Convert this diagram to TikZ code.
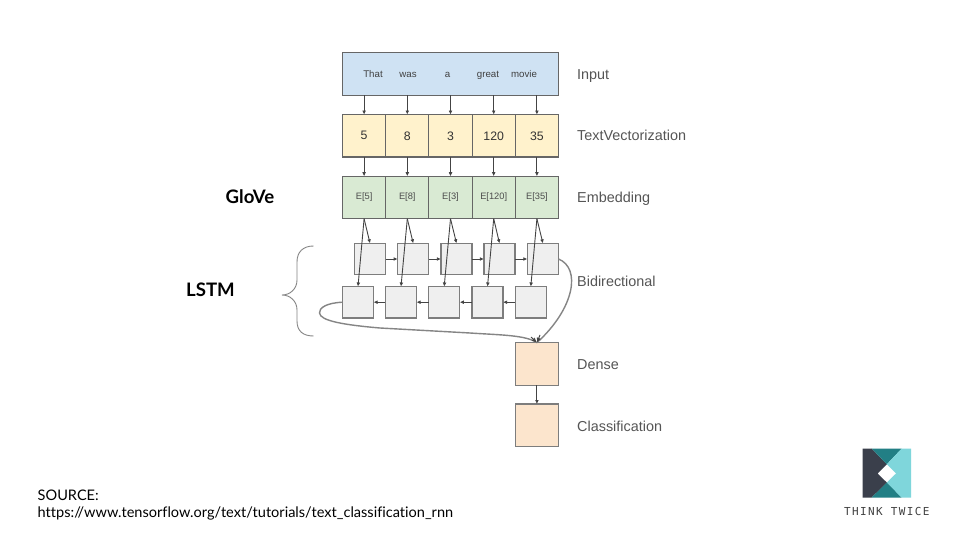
\documentclass[tikz,border=0pt]{standalone}
\usepackage{fontspec}
\setmainfont{Liberation Sans}
\newfontfamily\latofont[Ligatures=NoCommon]{Lato}
\newfontfamily\monofont{DejaVu Sans Mono}
\usetikzlibrary{arrows.meta}
\definecolor{inblue}{HTML}{CFE2F3}
\definecolor{vecyellow}{HTML}{FFF2CC}
\definecolor{embgreen}{HTML}{D9EAD3}
\definecolor{lstmgray}{HTML}{EFEFEF}
\definecolor{denseorange}{HTML}{FCE5CD}
\definecolor{linegray}{HTML}{666666}
\definecolor{arrowdark}{HTML}{444444}
\definecolor{labelgray}{HTML}{555555}
\definecolor{logodark}{HTML}{3A3F4B}
\definecolor{logoteal}{HTML}{227F85}
\definecolor{logolight}{HTML}{7FD6DB}
\tikzset{
  x=1pt,y=-1pt,
  cell/.style={draw=linegray,line width=1.1pt,inner sep=0pt,outer sep=0pt,minimum height=42.5pt,font=\fontsize{12.3}{14}\selectfont,text=black!80},
  veccell/.style={cell,fill=vecyellow,minimum width=43.2pt},
  embcell/.style={cell,fill=embgreen,minimum width=43.2pt,font=\fontsize{9.3}{11}\selectfont,text=black!70},
  lstmcell/.style={draw=linegray!85,line width=1.3pt,fill=lstmgray,inner sep=0pt,outer sep=0pt,minimum width=31.2pt,minimum height=31.4pt},
  densecell/.style={draw=linegray!85,line width=1.3pt,fill=denseorange,inner sep=0pt,outer sep=0pt,minimum width=43.5pt,minimum height=42.6pt},
  word/.style={anchor=base,font=\fontsize{9.7}{11}\selectfont,text=black!75,inner sep=0pt},
  rowlabel/.style={anchor=base west,inner sep=0pt,font=\fontsize{14.4}{16}\selectfont,text=labelgray},
  biglabel/.style={inner sep=0pt,font=\latofont\bfseries\fontsize{18.6}{20}\selectfont,text=black},
  flow/.style={draw=arrowdark,line width=0.9pt,-{Latex[length=4pt,width=3.8pt]}},
  curved/.style={draw=linegray!80,line width=1.4pt},
  srctext/.style={anchor=base west,inner sep=0pt,font=\latofont\fontsize{14.55}{17}\selectfont,text=black},
}
\begin{document}
\begin{tikzpicture}
\useasboundingbox (0,0) rectangle (960,540);
\fill[white] (0,0) rectangle (960,540);

% Input
\node[draw=linegray,line width=1.1pt,fill=inblue,inner sep=0pt,outer sep=0pt,minimum width=216pt,minimum height=42.5pt] (input) at (450.5,74.2) {};
\node[word] (w1) at (373,77.5) {That};
\node[word] (w2) at (408,77.5) {was};
\node[word] (w3) at (447.5,77.5) {a};
\node[word] (w4) at (488,77.5) {great};
\node[word] (w5) at (524,77.5) {movie};

% TextVectorization
\foreach \i/\x/\t in {1/364.1/5,2/407.3/8,3/450.5/3,4/493.7/120,5/536.9/35}{
  \node[veccell] (v\i) at (\x,135.8) {\t};
  \node[embcell] (e\i) at (\x,197.5) {E[\ifcase\i\or 5\or 8\or 3\or 120\or 35\fi]};
  \draw[flow] (input.south -| v\i) -- (v\i.north);
  \draw[flow] (v\i.south) -- (e\i.north);
}

% Bidirectional
\node[lstmcell] (f1) at (370,259) {};
\node[lstmcell] (f2) at (413.2,259) {};
\node[lstmcell] (f3) at (456.5,259) {};
\node[lstmcell] (f4) at (499.5,259) {};
\node[lstmcell] (f5) at (542.9,259) {};
\node[lstmcell] (b1) at (358,302.2) {};
\node[lstmcell] (b2) at (401,302.2) {};
\node[lstmcell] (b3) at (444.2,302.2) {};
\node[lstmcell] (b4) at (487.5,302.2) {};
\node[lstmcell] (b5) at (530.8,302.2) {};

\foreach \i in {1,...,5}{
  \draw[flow] (e\i.south) -- (f\i.north);
  \draw[flow] (e\i.south) -- (b\i.north);
}
\foreach \a/\b in {1/2,2/3,3/4,4/5}{
  \draw[flow] (f\a.east) -- (f\b.west);
  \draw[flow] (b\b.west) -- (b\a.east);
}

% Dense, Classification
\node[densecell] (dense) at (536.9,364) {};
\node[densecell] (cls) at (536.9,425.3) {};
\draw[flow] (dense.south) -- (cls.north);

\draw[curved] (f5.east) .. controls (581,268) and (575,308) .. (dense.north);
\draw[curved] (b1.west) .. controls (326,303) and (319,308) .. (319.5,313)
  .. controls (320,321) and (345,325) .. (380,328)
  -- (470,333) .. controls (500,335) and (526,335) .. (dense.north);
\draw[draw=arrowdark,line width=1pt,-{Latex[length=5pt,width=4.5pt]}] (531,337) -- (dense.north);
\draw[draw=arrowdark,line width=1pt,-{Latex[length=5pt,width=4.5pt]}] (540,335) -- (dense.north);

% Brace
\draw[draw=linegray!80,line width=0.9pt] (313.5,246)
  .. controls (303,246) and (297,252) .. (297,262) -- (297,280)
  .. controls (297,289) and (290,295) .. (282,295)
  .. controls (290,295) and (297,301) .. (297,310) -- (297,321)
  .. controls (297,331) and (303,336) .. (313.5,336);

% Row labels
\node[rowlabel] (l1) at (577,79.5) {Input};
\node[rowlabel] (l2) at (577,140.5) {TextVectorization};
\node[rowlabel] (l3) at (577,202.5) {Embedding};
\node[rowlabel] (l4) at (577,286) {Bidirectional};
\node[rowlabel] (l5) at (577,369.5) {Dense};
\node[rowlabel] (l6) at (577,431) {Classification};

\node[biglabel] (glove) at (250,197) {GloVe};
\node[biglabel] (lstm) at (210.5,290) {LSTM};

% Source
\node[srctext] (src1) at (37.5,500) {SOURCE:};
\node[srctext] (src2) at (37.5,517) {https://www.tensorflow.org/text/tutorials/text\_classification\_rnn};

% Logo
\fill[logodark] (862.5,448.5) -- (871.7,448.5) -- (886.8,464.3) -- (877.5,473.5) -- (886.8,482.5) -- (871.7,497.5) -- (862.5,497.5) -- cycle;
\fill[logoteal] (871.7,448.5) -- (901.7,448.5) -- (886.8,464.3) -- cycle;
\fill[logoteal] (871.7,497.5) -- (901.7,497.5) -- (886.8,482.5) -- cycle;
\fill[logolight] (901.7,448.5) -- (911,448.5) -- (911,497.5) -- (901.7,497.5) -- (886.8,482.5) -- (896,473.5) -- (886.8,464.3) -- cycle;
\node[inner sep=0pt,font=\monofont\fontsize{11}{12}\selectfont,text=black!75] (logotext) at (886.8,511) {T\kern1.4pt H\kern1.4pt I\kern1.4pt N\kern1.4pt K\kern1.4pt\ T\kern1.4pt W\kern1.4pt I\kern1.4pt C\kern1.4pt E};
\end{tikzpicture}
\end{document}
